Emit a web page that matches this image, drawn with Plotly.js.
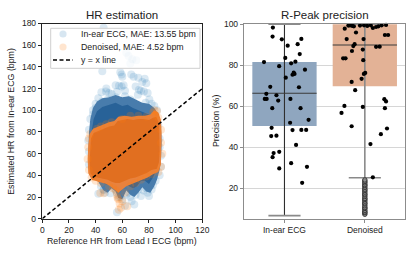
<!DOCTYPE html>
<html>
<head>
<meta charset="utf-8">
<script src="https://cdn.plot.ly/plotly-3.0.1.min.js"></script>
<style>html,body{margin:0;padding:0;background:#fff}#chart{width:415px;height:255px}</style>
</head>
<body>
<div id="chart"></div>
<script>
// ---------- Left panel: HR estimation ----------
// sparse / outlying In-ear ECG estimates (reference HR, estimated HR)
const inEarSparseX = [46,63,67.5,66,70.5,64.7,45,58.5,59.5,60,66.7,68.5,72,55,57.5,59.5,61,72.5,74,76.8,75,78,44.3,47.8,50,42,52,71.7,76.2,80.3,79,77.5,40,45,49,55,62,66,68,53,58,44,48,62,70,56,82,38,
  44,46,47,48,50,42,46,51,53,55,56,57,58.6,59,60,56,62,63,65,66,67,69,68,70,72,74,76,78,79,80,82,83,85,
  88,89,89,88,88,87,86,84,35,35,34.5,35,36,38,40];
const inEarSparseY = [176,153,147,143,146,150,136,135,133,131,133,131,130,123,122.5,122,123,119,118,129,126,125,116.5,117.4,116,111,115,114.4,117.4,110,116,107,102,108,110,112,113,110,108,106,108,104,120,118,122,117,106,96,
  30,27,24,29,31,23,26.5,23.5,30,27,24,20,20.3,25,18,6,12,22,24,20,16,13,25,22,27,21,26,28,24,21,27,31,35,
  40,48,58,66,74,86,100,104,50,62,72,82,92,100,106];
// outline of the dense In-ear cloud (outer, medium density)
const inEarCloudX = [34.5,35,36,38,41,45,50,55,60,65,70,75,80,84,87,89,89.5,89,88,86,84,81,78,75,72,69,66,63,60,57,55,52,49,46,44,42,39,36,35];
const inEarCloudY = [60,80,92,102,108,111,112,114,112,113,110,107,106,102,96,85,70,55,45,36,30,24,25,29,24,20,22,26,18,19,25,28,24,26,30,34,37,42,50];
// outline of the saturated In-ear core
const inEarCoreX = [36.5,36.5,37,38.5,41,45,50,55,60,64,68,72,76,80,84,86.5,87,86.5,85.5,83,80,77,74,71,68,65,62,59,56,53,50,47,44,41,38];
const inEarCoreY = [50,65,80,92,99,103,105,107,104,105,102,100,98,96,93,85,70,55,45,38,32,35,35,30,28,30,32,26,29,33,31,32,35,38,42];

// sparse / outlying Denoised estimates
const denoisedSparseX = [84,85,83,86,87,89,89,90,89,87,35,34,34.5,35,36,37,40,44,43.5,46,50,53,55,56,56.4,57,58,57.4,59,60,63.7,62,66,70,74,78,82,60,66,72,78,48,52,44,41];
const denoisedSparseY = [100,95,98,99,93,82,70,60,48,43,45,55,66,74,78,38,35,33,23.8,23.5,30,28,26,22,19.3,18,14,8.3,10,16,11.5,24,30,33,36,39,41,92,95,95,94,87,89,85,83];
// outline of the dense Denoised cloud (outer) and its saturated core
const denoisedCloudX = [34.5,34,34.5,35.5,38,42,46,50,54,57,62,67,72,77,81,84,87,89,89.5,89.5,89,87,83,79,75,71,67,63,60,57,54,51,48,45,41,37];
const denoisedCloudY = [42,55,68,78,83,85,87,89,90,94,95,94,95,95,96,100,98,91,78,62,50,43,41,38,36,34,32,30,27,24,27,30,32,33,34,36];
const denoisedCoreX = [36,35.5,36,36.5,38.5,42,46,50,54,56.5,60,64,68,72,76,80,83,85.5,87.5,88,88,87.5,86,82,78,74,70,66,62,58,55,52,49,45,41,38];
const denoisedCoreY = [42,52,64,74,79,81,83,85,86,90,91,92,91,92,92,91,93,94,88,75,62,52,46,45,42,40,38,37,35,33,33,34,36,37,38,39];

// identity line
const identityX = [0, 120];
const identityY = [0, 120];

// ---------- Right panel: R-Peak precision ----------
const categories = ['In-ear ECG', 'Denoised'];
const q1 = [50.4, 69.8];
const medians = [66.4, 89.9];
const q3 = [81.6, 100];
const whiskerLow = [6.7, 25.2];
const whiskerHigh = [100, 100];
// per-recording precision (%) with the horizontal jitter
const inEarJitter = [-0.144,-0.148,-0.033,0.21,0.04,0.164,0.19,0.01,-0.255,0.083,0.136,-0.066,0.255,0.10,0.115,0.125,0.016,-0.177,0.18,-0.226,-0.245,-0.222,-0.1,-0.078,0.074,-0.152,0.2,0.3,-0.16,0.07,0.1,0.21,0.27,-0.165,-0.1,0.144,-0.135,-0.065,-0.148,0.083,-0.065,0.28,0.22];
const inEarPrecision = [98.4,94.0,92.7,92.9,89.6,90.3,85.5,83.6,81.6,81.0,81.8,79.6,77.9,75.4,76.4,75.8,74.0,69.5,69.3,66.1,63.6,63.6,65.4,62.8,63.6,59.1,59.1,53.4,49.5,52.0,48.4,48.5,48.5,45.5,45.7,41.2,37.2,37.8,35.2,32.3,29.7,30.5,22.7];
const denoisedJitter = [-0.25,-0.205,-0.185,-0.156,-0.136,-0.11,-0.06,-0.01,0.03,0.074,0.1,0.14,0.17,0.21,0.264,0.25,0.29,-0.226,-0.016,-0.127,-0.143,-0.16,-0.025,0.14,0.185,-0.27,-0.24,-0.02,0.005,-0.012,-0.04,-0.164,-0.12,0.243,0.264,0.25,-0.025,-0.254,-0.29,-0.164,0.276,0.2,0.07,0.1];
const denoisedPrecision = [97.9,99.4,99.5,99.2,99.0,96.0,99.4,99.5,99.2,99.5,98.2,98.7,99.0,99.5,99.7,94.8,94.8,92.8,92.8,90.3,89.4,87.0,87.7,89.0,89.1,83.4,83.4,82.5,76.3,75.8,73.4,71.9,67.9,63.5,62.4,59.1,59.7,60.2,56.8,50.3,49.2,46.4,41.6,25.4];
const denoisedOutliers = [7.4,8.1,8.5,9.3,10.2,10.6,11.5,12.4,12.9,13.8,14.6,15.1,16.0,16.8,17.3,18.2,19.0,19.6,20.5,21.3,21.8,22.7,23.4,24.1];

// ---------- styles ----------
const W = 415, H = 255;
const fx = v => v / W, fy = v => 1 - v / H;
const FONT = 'Liberation Sans, Arial, sans-serif';
const BLUE = '31,119,180', ORANGE = '255,127,14';

const traces = [];
// left panel
traces.push({x: inEarSparseX, y: inEarSparseY, type: 'scatter', mode: 'markers', name: 'In-ear ECG, MAE: 13.55 bpm',
  marker: {size: 8, color: 'rgba(' + BLUE + ',0.16)', line: {width: 0}}, hoverinfo: 'skip'});
traces.push({x: inEarCloudX, y: inEarCloudY, type: 'scatter', mode: 'lines', fill: 'toself',
  fillcolor: 'rgb(72,124,172)', line: {width: 0, color: 'rgb(72,124,172)'}, hoverinfo: 'skip'});
traces.push({x: inEarCoreX, y: inEarCoreY, type: 'scatter', mode: 'lines', fill: 'toself',
  fillcolor: 'rgb(40,98,152)', line: {width: 0, color: 'rgb(40,98,152)'}, hoverinfo: 'skip'});
traces.push({x: denoisedCloudX, y: denoisedCloudY, type: 'scatter', mode: 'lines', fill: 'toself',
  fillcolor: 'rgb(232,130,62)', line: {width: 0, color: 'rgb(232,130,62)'}, hoverinfo: 'skip'});
traces.push({x: denoisedCoreX, y: denoisedCoreY, type: 'scatter', mode: 'lines', fill: 'toself',
  fillcolor: 'rgb(225,111,32)', line: {width: 0, color: 'rgb(225,111,32)'}, hoverinfo: 'skip'});
traces.push({x: denoisedSparseX, y: denoisedSparseY, type: 'scatter', mode: 'markers', name: 'Denoised, MAE: 4.52 bpm',
  marker: {size: 8, color: 'rgba(' + ORANGE + ',0.2)', line: {width: 0}}, hoverinfo: 'skip'});
traces.push({x: identityX, y: identityY, type: 'scatter', mode: 'lines', name: 'y = x line',
  line: {color: '#000', width: 1.5, dash: '4px,2.5px'}, hoverinfo: 'skip'});

// right panel boxes
traces.push({x: [0, 1], base: q1, y: q3.map((v, i) => v - q1[i]), type: 'bar', width: 0.8,
  marker: {color: ['#8fa6bf', '#e3b296'], line: {width: 0}}, xaxis: 'x2', yaxis: 'y2', hoverinfo: 'skip'});
const wcol = ['#2e2e2e', '#8a8a8a'];
[0, 1].forEach(i => {
  traces.push({x: [i, i], y: [whiskerLow[i], whiskerHigh[i]], type: 'scatter', mode: 'lines',
    line: {color: wcol[i], width: i ? 1.6 : 1.1}, xaxis: 'x2', yaxis: 'y2', hoverinfo: 'skip'});
  traces.push({x: [i - 0.2, i + 0.2, null, i - 0.2, i + 0.2], y: [whiskerLow[i], whiskerLow[i], null, whiskerHigh[i], whiskerHigh[i]],
    type: 'scatter', mode: 'lines', line: {color: '#8a8a8a', width: 1.6}, xaxis: 'x2', yaxis: 'y2', hoverinfo: 'skip', cliponaxis: false});
  traces.push({x: [i - 0.4, i + 0.4], y: [medians[i], medians[i]], type: 'scatter', mode: 'lines',
    line: {color: '#3a3a3a', width: 1.1}, xaxis: 'x2', yaxis: 'y2', hoverinfo: 'skip'});
});
traces.push({x: denoisedOutliers.map(() => 1), y: denoisedOutliers, type: 'scatter', mode: 'markers',
  marker: {symbol: 'circle', size: 4.5, color: 'rgba(150,150,150,0.7)', line: {color: '#333', width: 1}},
  xaxis: 'x2', yaxis: 'y2', hoverinfo: 'skip'});
traces.push({x: inEarJitter.map(d => 0 + d), y: inEarPrecision, type: 'scatter', mode: 'markers',
  marker: {size: 4.2, color: '#000'}, xaxis: 'x2', yaxis: 'y2', hoverinfo: 'skip', cliponaxis: false});
traces.push({x: denoisedJitter.map(d => 1 + d), y: denoisedPrecision, type: 'scatter', mode: 'markers',
  marker: {size: 4.2, color: '#000'}, xaxis: 'x2', yaxis: 'y2', hoverinfo: 'skip', cliponaxis: false});

const yDom = [fy(218.7), fy(23.5)];
const axBase = {ticks: 'outside', ticklen: 3.5, tickwidth: 1, showline: true, linewidth: 1, mirror: true,
  zeroline: false, fixedrange: true, tickfont: {family: FONT, size: 8.5, color: '#222'}};

const legendRows = [34, 47, 60];
const legendLabels = ['In-ear ECG, MAE: 13.55 bpm', 'Denoised, MAE: 4.52 bpm', 'y = x line'];

const layout = {
  width: W, height: H, margin: {l: 0, r: 0, t: 0, b: 0}, showlegend: false,
  paper_bgcolor: '#fff', plot_bgcolor: '#fff', barmode: 'overlay',
  font: {family: FONT, size: 8.5, color: '#222'},
  xaxis: Object.assign({}, axBase, {domain: [fx(42.3), fx(202.3)], range: [0, 120], dtick: 20, tick0: 0,
    showgrid: false, linecolor: '#222', tickcolor: '#222', anchor: 'y'}),
  yaxis: Object.assign({}, axBase, {domain: yDom, range: [0, 180], dtick: 20, tick0: 0,
    showgrid: false, linecolor: '#222', tickcolor: '#222', anchor: 'x'}),
  xaxis2: Object.assign({}, axBase, {domain: [fx(244.3), fx(405)], range: [-0.5, 1.5], tickvals: [0, 1], ticktext: categories,
    showgrid: false, linecolor: '#8c8c8c', tickcolor: '#8c8c8c', anchor: 'y2'}),
  yaxis2: Object.assign({}, axBase, {domain: yDom, range: [5.2, 100.4], tickvals: [20, 40, 60, 80, 100],
    showgrid: true, gridcolor: '#d6d6d6', gridwidth: 1, linecolor: '#8c8c8c', tickcolor: '#8c8c8c', anchor: 'x2'}),
  shapes: [
    {type: 'rect', xref: 'paper', yref: 'paper', x0: fx(50.7), x1: fx(200), y0: fy(68.3), y1: fy(28.3),
      fillcolor: 'rgba(255,255,255,0.8)', line: {color: '#cfcfcf', width: 1}},
    {type: 'circle', xref: 'paper', yref: 'paper', xsizemode: 'pixel', ysizemode: 'pixel', xanchor: fx(63), yanchor: fy(34),
      x0: -3.6, x1: 3.6, y0: -3.6, y1: 3.6, fillcolor: 'rgba(' + BLUE + ',0.18)', line: {width: 0}},
    {type: 'circle', xref: 'paper', yref: 'paper', xsizemode: 'pixel', ysizemode: 'pixel', xanchor: fx(63), yanchor: fy(47),
      x0: -3.6, x1: 3.6, y0: -3.6, y1: 3.6, fillcolor: 'rgba(' + ORANGE + ',0.2)', line: {width: 0}},
    {type: 'line', xref: 'paper', yref: 'paper', x0: fx(53), x1: fx(73), y0: fy(60), y1: fy(60),
      line: {color: '#000', width: 1.5, dash: '4px,2.5px'}}
  ],
  annotations: [
    {text: 'HR estimation', xref: 'paper', yref: 'paper', x: fx(122.3), y: fy(15), showarrow: false,
      font: {family: FONT, size: 11.5, color: '#222'}, xanchor: 'center', yanchor: 'middle'},
    {text: 'R-Peak precision', xref: 'paper', yref: 'paper', x: fx(324.7), y: fy(15), showarrow: false,
      font: {family: FONT, size: 11.5, color: '#222'}, xanchor: 'center', yanchor: 'middle'},
    {text: 'Reference HR from Lead I ECG (bpm)', xref: 'paper', yref: 'paper', x: fx(122.3), y: fy(240.7), showarrow: false,
      font: {family: FONT, size: 8.8, color: '#222'}, xanchor: 'center', yanchor: 'middle'},
    {text: 'Estimated HR from In-ear ECG (bpm)', xref: 'paper', yref: 'paper', x: fx(11.5), y: fy(121.3), showarrow: false,
      textangle: -90, font: {family: FONT, size: 8.8, color: '#222'}, xanchor: 'center', yanchor: 'middle'},
    {text: 'Precision (%)', xref: 'paper', yref: 'paper', x: fx(216.7), y: fy(121.3), showarrow: false,
      textangle: -90, font: {family: FONT, size: 8.8, color: '#222'}, xanchor: 'center', yanchor: 'middle'}
  ].concat(legendLabels.map((t, i) => ({text: t, xref: 'paper', yref: 'paper', x: fx(78.7), y: fy(legendRows[i]),
      showarrow: false, xanchor: 'left', yanchor: 'middle', font: {family: FONT, size: 8.8, color: '#222'}})))
};

Plotly.newPlot('chart', traces, layout, {staticPlot: true, displayModeBar: false});
</script>
</body>
</html>
